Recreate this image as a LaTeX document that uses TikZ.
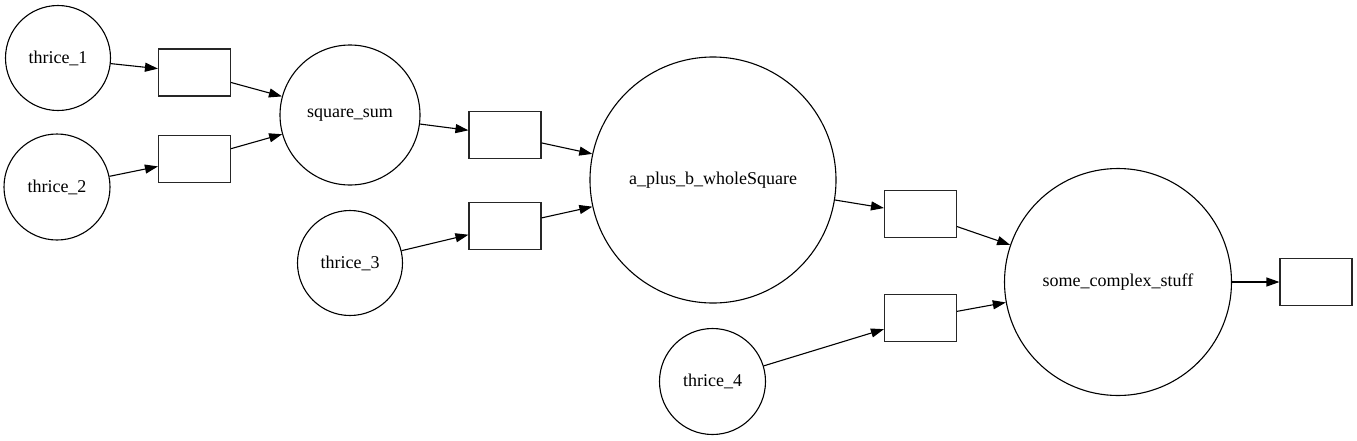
\documentclass[tikz,border=0pt]{standalone}
\usepackage{fontspec}
\setmainfont{Liberation Serif}
\usetikzlibrary{arrows.meta}
\begin{document}
\begin{tikzpicture}[x=1pt,y=-1pt,
  every node/.style={font=\fontsize{18}{20}\selectfont, inner sep=0pt},
  fn/.style={circle, draw=black, line width=1.1pt},
  outbox/.style={rectangle, draw=black!85, line width=1.1pt, minimum width=72pt, minimum height=47pt},
  edge/.style={draw=black, line width=1.1pt, -{Triangle[length=13pt,width=9pt]}}]
\useasboundingbox (0,0) rectangle (1357,440);
% function nodes
\node[fn, minimum size=105pt] (t1) at (58,58) {thrice\_1};
\node[fn, minimum size=106pt] (t2) at (57,187) {thrice\_2};
\node[fn, minimum size=140pt] (ss) at (350,115) {square\_sum};
\node[fn, minimum size=105pt] (t3) at (350,263) {thrice\_3};
\node[fn, minimum size=246pt] (ab) at (713,180) {a\_plus\_b\_wholeSquare};
\node[fn, minimum size=106pt] (t4) at (712.5,381.5) {thrice\_4};
\node[fn, minimum size=227pt] (sc) at (1118,282) {some\_complex\_stuff};
% value boxes
\node[outbox] (r1) at (194.5,72.5) {};
\node[outbox] (r2) at (194.5,159) {};
\node[outbox] (r3) at (505,135) {};
\node[outbox] (r4) at (505,226) {};
\node[outbox] (r5) at (920.5,214) {};
\node[outbox] (r6) at (920.5,318) {};
\node[outbox] (r7) at (1316,282) {};
% edges
\draw[edge] (t1) -- (r1);
\draw[edge] (t2) -- (r2);
\draw[edge] (r1) -- (ss);
\draw[edge] (r2) -- (ss);
\draw[edge] (ss) -- (r3);
\draw[edge] (t3) -- (r4);
\draw[edge] (r3) -- (ab);
\draw[edge] (r4) -- (ab);
\draw[edge] (ab) -- (r5);
\draw[edge] (t4) -- (r6);
\draw[edge] (r5) -- (sc);
\draw[edge] (r6) -- (sc);
\draw[edge] (sc) -- (r7);
\end{tikzpicture}
\end{document}
